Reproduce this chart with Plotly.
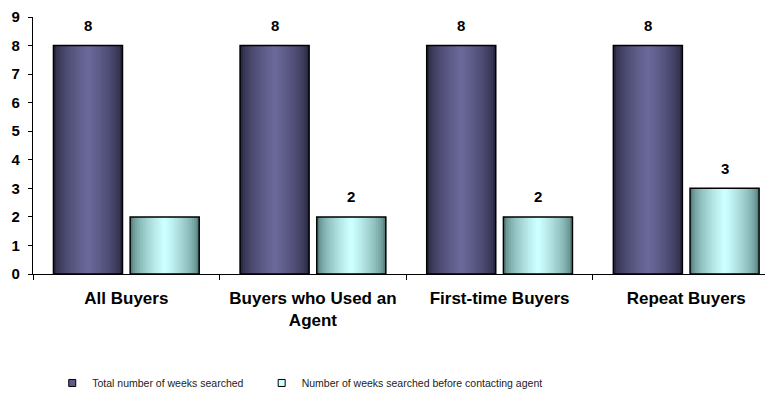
import plotly.graph_objects as go

categories = ["All Buyers", "Buyers who Used an<br>Agent", "First-time Buyers", "Repeat Buyers"]
total_weeks = [8, 8, 8, 8]
before_agent = [2, 2, 2, 3]
before_agent_labels = ["", "2", "2", "3"]
series_names = ["Total number of weeks searched", "Number of weeks searched before contacting agent"]
y_ticks = list(range(0, 10))

BAR_W = 0.37
CENTER_SHIFT = 0.2055
FONT = "Liberation Sans, Arial"

def lerp(c1, c2, t):
    return "rgb(%d,%d,%d)" % tuple(round(a + (b - a) * t) for a, b in zip(c1, c2))

fig = go.Figure()

def gradient_bars(values, center, edge_col, mid_col, n=14):
    for k in range(n):
        w = BAR_W * (1 - k / n)
        t = (k / (n - 1)) ** 0.6
        fig.add_trace(go.Bar(
            x=categories, y=values, width=w, offset=center - w / 2,
            marker=dict(color=lerp(edge_col, mid_col, t), line=dict(width=0)),
            showlegend=False, hoverinfo="skip"))
    fig.add_trace(go.Bar(
        x=categories, y=values, width=BAR_W, offset=center - BAR_W / 2,
        marker=dict(color="rgba(0,0,0,0)", line=dict(color="black", width=1.5)),
        showlegend=False, hoverinfo="skip"))

gradient_bars(total_weeks, -CENTER_SHIFT, (40, 39, 64), (106, 104, 153))
gradient_bars(before_agent, CENTER_SHIFT, (84, 128, 126), (204, 255, 255))

# legend entries
fig.add_trace(go.Scatter(x=[None], y=[None], mode="markers", name=series_names[0],
                         legend="legend",
                         marker=dict(symbol="square", size=7, color="#5D5C8C",
                                     line=dict(color="black", width=1))))
fig.add_trace(go.Scatter(x=[None], y=[None], mode="markers", name=series_names[1],
                         legend="legend2",
                         marker=dict(symbol="square", size=7, color="#CCFFFF",
                                     line=dict(color="black", width=1))))

for i, c in enumerate(categories):
    fig.add_annotation(x=c, y=total_weeks[i], text=str(total_weeks[i]), showarrow=False,
                       xshift=-CENTER_SHIFT * 186.7, yshift=20,
                       font=dict(family=FONT, size=15, color="black", weight="bold"))
    if before_agent_labels[i]:
        fig.add_annotation(x=c, y=before_agent[i], text=before_agent_labels[i], showarrow=False,
                           xshift=CENTER_SHIFT * 186.7, yshift=20,
                           font=dict(family=FONT, size=15, color="black", weight="bold"))

leg_common = dict(orientation="h", y=-0.424, xanchor="left", yanchor="middle",
                  font=dict(size=10.5, color="#222", family=FONT), itemwidth=30,
                  bgcolor="rgba(0,0,0,0)")

# page body has an 8px margin, so the figure is sized/offset to land on the reference layout
fig.update_layout(
    width=765, height=387,
    margin=dict(l=25, r=0, t=9, b=121, autoexpand=False),
    paper_bgcolor="white", plot_bgcolor="white",
    barmode="overlay",
    font=dict(family=FONT, color="black"),
    xaxis=dict(range=[-0.5, 3.465], showgrid=False, zeroline=False, automargin=False,
               showline=True, linecolor="black", linewidth=1.3,
               ticks="outside", ticklen=5, tickcolor="black", tickwidth=1.3,
               tickson="boundaries", ticklabelstandoff=8,
               tickfont=dict(size=17, weight="bold", family=FONT)),
    yaxis=dict(range=[0, 9], tickvals=y_ticks, showgrid=False, zeroline=False, automargin=False,
               showline=True, linecolor="black", linewidth=1.3,
               ticks="outside", ticklen=4, tickcolor="black", tickwidth=1.3,
               ticklabelstandoff=5,
               tickfont=dict(size=15, weight="bold", family=FONT)),
    legend=dict(x=0.026, **leg_common),
    legend2=dict(x=0.309, **leg_common),
)

fig.write_html("out.html")
